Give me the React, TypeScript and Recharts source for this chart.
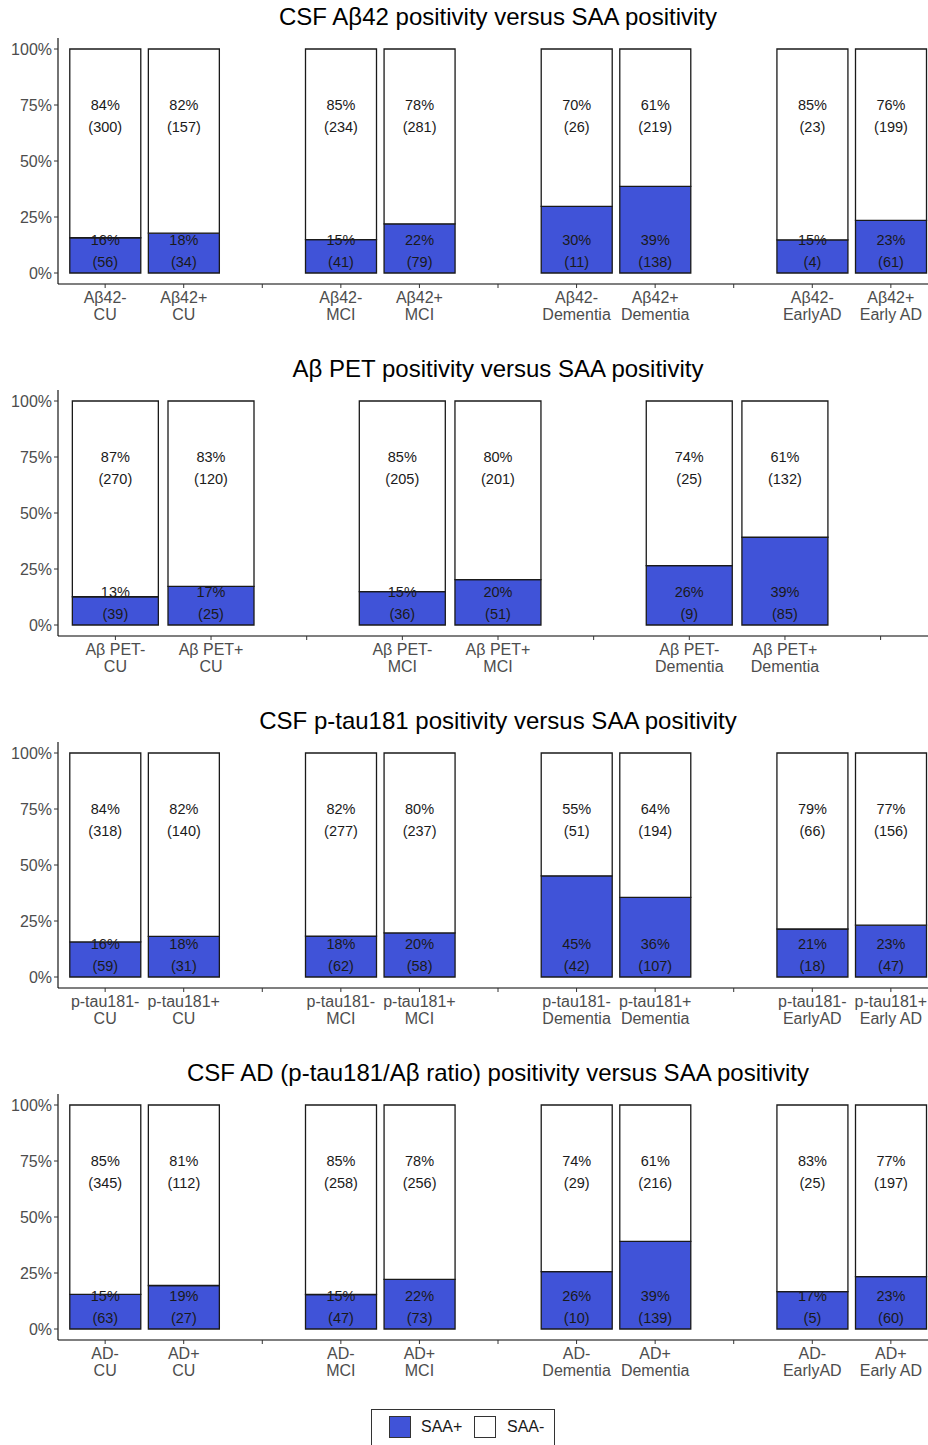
import { BarChart, Bar, XAxis, YAxis, LabelList } from "recharts";

const BLUE = "#4053d8";
const FONT = '"Liberation Sans", Arial, Helvetica, sans-serif';

// ---- CSF Aβ42 ----
const ab42Groups = [
  "Aβ42-\nCU", "Aβ42+\nCU", "Aβ42-\nMCI", "Aβ42+\nMCI",
  "Aβ42-\nDementia", "Aβ42+\nDementia", "Aβ42-\nEarlyAD", "Aβ42+\nEarly AD",
];
const ab42Pos = [56, 34, 41, 79, 11, 138, 4, 61];
const ab42Neg = [300, 157, 234, 281, 26, 219, 23, 199];
const ab42PosPct = [16, 18, 15, 22, 30, 39, 15, 23];
const ab42NegPct = [84, 82, 85, 78, 70, 61, 85, 76];

// ---- Aβ PET ----
const petGroups = [
  "Aβ PET-\nCU", "Aβ PET+\nCU", "Aβ PET-\nMCI", "Aβ PET+\nMCI",
  "Aβ PET-\nDementia", "Aβ PET+\nDementia",
];
const petPos = [39, 25, 36, 51, 9, 85];
const petNeg = [270, 120, 205, 201, 25, 132];
const petPosPct = [13, 17, 15, 20, 26, 39];
const petNegPct = [87, 83, 85, 80, 74, 61];

// ---- CSF p-tau181 ----
const ptauGroups = [
  "p-tau181-\nCU", "p-tau181+\nCU", "p-tau181-\nMCI", "p-tau181+\nMCI",
  "p-tau181-\nDementia", "p-tau181+\nDementia", "p-tau181-\nEarlyAD", "p-tau181+\nEarly AD",
];
const ptauPos = [59, 31, 62, 58, 42, 107, 18, 47];
const ptauNeg = [318, 140, 277, 237, 51, 194, 66, 156];
const ptauPosPct = [16, 18, 18, 20, 45, 36, 21, 23];
const ptauNegPct = [84, 82, 82, 80, 55, 64, 79, 77];

// ---- CSF AD (p-tau181/Aβ ratio) ----
const adGroups = [
  "AD-\nCU", "AD+\nCU", "AD-\nMCI", "AD+\nMCI",
  "AD-\nDementia", "AD+\nDementia", "AD-\nEarlyAD", "AD+\nEarly AD",
];
const adPos = [63, 27, 47, 73, 10, 139, 5, 60];
const adNeg = [345, 112, 258, 256, 29, 216, 25, 197];
const adPosPct = [15, 19, 15, 22, 26, 39, 17, 23];
const adNegPct = [85, 81, 85, 78, 74, 61, 83, 77];

const yTicks = [0, 0.25, 0.5, 0.75, 1];

type Row = {
  key: string;
  label: string;
  pos: number | null;
  neg: number | null;
  posPct: number | null;
  negPct: number | null;
};

// pairs of bars separated by an empty slot, padded to `slots`
function buildRows(
  groups: string[],
  pos: number[],
  neg: number[],
  posPct: number[],
  negPct: number[],
  slots: number,
): Row[] {
  const rows: Row[] = [];
  const gap = (): Row => ({ key: `gap${rows.length}`, label: "", pos: null, neg: null, posPct: null, negPct: null });
  groups.forEach((g, i) => {
    if (i > 0 && i % 2 === 0) rows.push(gap());
    rows.push({ key: `s${i}`, label: g, pos: pos[i], neg: neg[i], posPct: posPct[i], negPct: negPct[i] });
  });
  while (rows.length < slots) rows.push(gap());
  return rows;
}

const PANEL_H = 352;
const CHART_W = 938;
const Y_AXIS_W = 58;
const PLOT_W = CHART_W - Y_AXIS_W;

function SlotTick(props: any) {
  const { x, y, payload, rows } = props;
  const row: Row | undefined = rows.find((r: Row) => r.key === payload.value);
  if (!row || !row.label) return null;
  const lines = row.label.split("\n");
  return (
    <text x={x} y={y} textAnchor="middle" fill="#4d4d4d" fontSize={16} fontFamily={FONT}>
      {lines.map((ln, i) => (
        <tspan key={i} x={x} dy={i === 0 ? 13 : 17}>
          {ln}
        </tspan>
      ))}
    </text>
  );
}

function Panel({ title, rows, top }: { title: string; rows: Row[]; top: number }) {
  const band = PLOT_W / (rows.length + 0.2);
  const pad = band * 0.1;

  // both segment labels are drawn from the top (SAA-) segment so they sit above the bars
  const renderLabels = (props: any) => {
    const vb = props.viewBox ?? props;
    const { x, y, width, height } = vb;
    const row = rows.find((r) => r.key === props.value);
    if (!row || !row.label || row.pos == null || row.neg == null) return null;
    const frac = row.neg / (row.pos + row.neg);
    const full = height / frac;
    const cx = x + width / 2;
    const yHi = y + 0.3 * full;
    const yLo = y + 0.9 * full;
    const fs = 14.5;
    const base = fs * 0.36;
    const txt = (cy: number, s: string, k: string) => (
      <text key={k} x={cx} y={cy + base} textAnchor="middle" fill="#1a1a1a" fontSize={fs} fontFamily={FONT}>
        {s}
      </text>
    );
    return (
      <g>
        {txt(yHi - 11, `${row.negPct}%`, "a")}
        {txt(yHi + 11, `(${row.neg})`, "b")}
        {txt(yLo - 11, `${row.posPct}%`, "c")}
        {txt(yLo + 11, `(${row.pos})`, "d")}
      </g>
    );
  };

  return (
    <div style={{ position: "absolute", left: 0, top, width: CHART_W, height: PANEL_H }}>
      <div
        style={{
          position: "absolute",
          left: Y_AXIS_W,
          top: 0,
          width: PLOT_W,
          height: 34,
          lineHeight: "34px",
          textAlign: "center",
          fontSize: 24,
          color: "#000",
        }}
      >
        {title}
      </div>
      <BarChart
        width={CHART_W}
        height={PANEL_H}
        data={rows}
        stackOffset="expand"
        barCategoryGap="5%"
        margin={{ top: 38, right: 0, bottom: 28, left: 0 }}
      >
        <XAxis
          dataKey="key"
          height={40}
          padding={{ left: pad, right: pad }}
          axisLine={{ stroke: "#000", strokeWidth: 1.1 }}
          tickLine={{ stroke: "#333", strokeWidth: 1 }}
          tickSize={4}
          interval={0}
          tick={<SlotTick rows={rows} />}
        />
        <YAxis
          width={Y_AXIS_W}
          type="number"
          domain={[0, 1]}
          ticks={yTicks}
          padding={{ top: 11, bottom: 11 }}
          tickFormatter={(v: number) => `${Math.round(v * 100)}%`}
          axisLine={{ stroke: "#000", strokeWidth: 1.1 }}
          tickLine={{ stroke: "#333", strokeWidth: 1 }}
          tickSize={4}
          tick={{ fill: "#4d4d4d", fontSize: 16, fontFamily: FONT }}
        />
        <Bar dataKey="pos" stackId="a" fill={BLUE} stroke="#1a1a1a" strokeWidth={1.3} isAnimationActive={false} />
        <Bar dataKey="neg" stackId="a" fill="#ffffff" stroke="#1a1a1a" strokeWidth={1.3} isAnimationActive={false}>
          <LabelList dataKey="key" content={renderLabels} />
        </Bar>
      </BarChart>
    </div>
  );
}

export default function App() {
  const panels = [
    { title: "CSF Aβ42 positivity versus SAA positivity", rows: buildRows(ab42Groups, ab42Pos, ab42Neg, ab42PosPct, ab42NegPct, 11) },
    { title: "Aβ PET positivity versus SAA positivity", rows: buildRows(petGroups, petPos, petNeg, petPosPct, petNegPct, 9) },
    { title: "CSF p-tau181 positivity versus SAA positivity", rows: buildRows(ptauGroups, ptauPos, ptauNeg, ptauPosPct, ptauNegPct, 11) },
    { title: "CSF AD (p-tau181/Aβ ratio) positivity versus SAA positivity", rows: buildRows(adGroups, adPos, adNeg, adPosPct, adNegPct, 11) },
  ];

  return (
    <div
      style={{
        position: "absolute",
        left: 0,
        top: 0,
        width: 928,
        height: 1445,
        overflow: "hidden",
        background: "#fff",
        fontFamily: FONT,
      }}
    >
      {panels.map((p, i) => (
        <Panel key={i} title={p.title} rows={p.rows} top={i * PANEL_H} />
      ))}

      {/* legend */}
      <div
        style={{
          position: "absolute",
          left: 371,
          top: 1409,
          width: 184,
          height: 44,
          border: "1px solid #333",
          boxSizing: "border-box",
        }}
      >
        <div style={{ position: "absolute", left: 17, top: 6, width: 22, height: 22, background: BLUE, border: "1px solid #333", boxSizing: "border-box" }} />
        <div style={{ position: "absolute", left: 49, top: 6, height: 22, lineHeight: "22px", fontSize: 16, color: "#1a1a1a" }}>SAA+</div>
        <div style={{ position: "absolute", left: 102, top: 6, width: 22, height: 22, background: "#fff", border: "1px solid #333", boxSizing: "border-box" }} />
        <div style={{ position: "absolute", left: 135, top: 6, height: 22, lineHeight: "22px", fontSize: 16, color: "#1a1a1a" }}>SAA-</div>
      </div>
    </div>
  );
}
